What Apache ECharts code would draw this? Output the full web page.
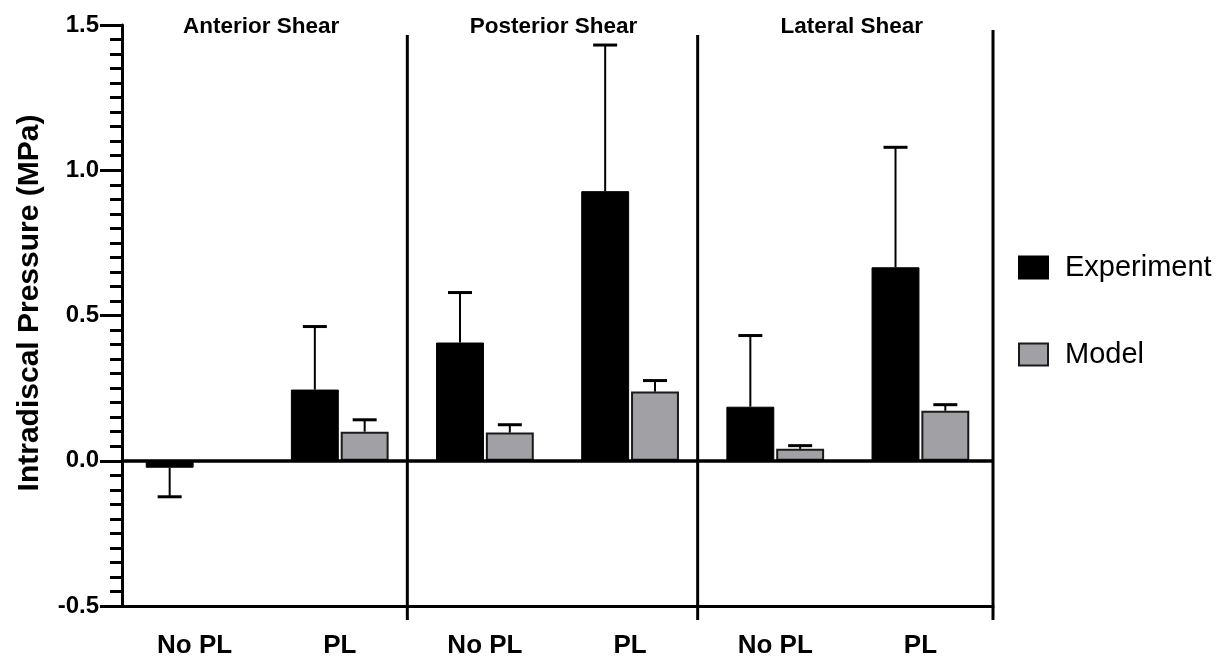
<!DOCTYPE html>
<html>
<head>
<meta charset="utf-8">
<script src="https://cdn.jsdelivr.net/npm/echarts@6/dist/echarts.min.js"></script>
<style>
html,body{margin:0;padding:0;background:#fff;}
#chart{width:1223px;height:660px;}
</style>
</head>
<body>
<div id="chart"></div>
<script>
// ---- data ----
const categories = ["No PL", "PL", "No PL", "PL", "No PL", "PL"];
const panelTitles = ["Anterior Shear", "Posterior Shear", "Lateral Shear"];
const panelBounds = [2, 4, 6];
const experimentMean = [-0.024, 0.245, 0.407, 0.928, 0.186, 0.666];
const experimentSD   = [0.100, 0.217, 0.172, 0.503, 0.245, 0.413];
const modelMean = [null, 0.100, 0.097, 0.238, 0.041, 0.172];
const modelSD   = [null, 0.041, 0.027, 0.038, 0.011, 0.021];
const yName = "Intradiscal Pressure (MPa)";

const FONT = "'Liberation Sans', Arial, Helvetica, sans-serif";
const BAR_W = 0.33, BAR_GAP = 0.04;

const chart = echarts.init(document.getElementById('chart'), null, {renderer: 'canvas'});

function errorSeries(name, means, sds, side) {
  const data = means.map((m, i) => m == null ? null : [i, m, sds[i]]).filter(d => d);
  return {
    type: 'custom', name: name, xAxisIndex: 0, yAxisIndex: 0, z: 5, silent: true,
    data: data,
    renderItem: function (params, api) {
      const i = api.value(0), m = api.value(1), s = api.value(2);
      const band = api.size([1, 0])[0];
      const w = band * BAR_W, g = w * BAR_GAP;
      const x = api.coord([i, m])[0] + side * (w + g) / 2;
      const y0 = api.coord([i, m])[1];
      const y1 = api.coord([i, m >= 0 ? m + s : m - s])[1];
      const cap = 24;
      return {
        type: 'group',
        children: [
          {type: 'line', shape: {x1: x, y1: y0, x2: x, y2: y1}, style: {stroke: '#000', lineWidth: 2}},
          {type: 'line', shape: {x1: x - cap / 2, y1: y1, x2: x + cap / 2, y2: y1}, style: {stroke: '#000', lineWidth: 3}}
        ]
      };
    }
  };
}

const option = {
  animation: false,
  backgroundColor: '#fff',
  grid: {left: 122, right: 230, top: 25, bottom: 54, containLabel: false},
  legend: {
    data: ['Experiment', 'Model'],
    orient: 'vertical', left: 1018, top: 253,
    itemWidth: 29, itemHeight: 22, itemGap: 58,
    icon: 'rect',
    padding: 0,
    textStyle: {fontFamily: FONT, fontSize: 29, color: '#000', padding: [0, 0, 0, 12]}
  },
  xAxis: [{
    type: 'category', data: categories,
    position: 'bottom',
    axisLine: {onZero: false, lineStyle: {color: '#000', width: 3}},
    axisTick: {alignWithLabel: true, length: 21, lineStyle: {color: '#000', width: 3.5}},
    axisLabel: {fontFamily: FONT, fontSize: 26, fontWeight: 'bold', color: '#000', margin: 27},
    splitLine: {show: false}
  }, {
    type: 'value', min: 0, max: 6, show: false
  }],
  yAxis: {
    type: 'value', min: -0.5, max: 1.5, interval: 0.5,
    axisLine: {show: true, lineStyle: {color: '#000', width: 3}},
    axisTick: {show: true, length: 22, lineStyle: {color: '#000', width: 3}},
    minorTick: {show: true, splitNumber: 10, length: 12, lineStyle: {color: '#000', width: 3}},
    axisLabel: {fontFamily: FONT, fontSize: 24, fontWeight: 'bold', color: '#000', margin: 23,
      formatter: v => v.toFixed(1)},
    splitLine: {show: false}
  },
  series: [
    {
      name: 'Experiment', type: 'bar', data: experimentMean,
      barWidth: (BAR_W * 100) + '%', barGap: (BAR_GAP * 100) + '%',
      itemStyle: {color: '#000', borderColor: '#000', borderWidth: 1},
      markLine: {
        silent: true, symbol: 'none', label: {show: false},
        lineStyle: {color: '#000', width: 3.5, type: 'solid'},
        data: [{yAxis: 0}]
      },
      z: 2
    },
    {
      name: 'Model', type: 'bar', data: modelMean,
      barWidth: (BAR_W * 100) + '%', barGap: (BAR_GAP * 100) + '%',
      itemStyle: {color: '#a1a1a5', borderColor: '#1a1a1a', borderWidth: 2},
      z: 2
    },
    errorSeries('Experiment SD', experimentMean, experimentSD, -1),
    errorSeries('Model SD', modelMean, modelSD, 1),
    {
      type: 'custom', name: 'panels', xAxisIndex: 1, yAxisIndex: 0, silent: true, z: 6,
      data: panelBounds.map(b => [b]),
      renderItem: function (params, api) {
        const v = api.value(0);
        const x = api.coord([v, 0])[0] + (v === 6 ? 0 : -5);
        const top = api.coord([v, 1.5])[1] + (v === 6 ? 5 : 10);
        const bot = api.coord([v, -0.5])[1] + 14;
        return {type: 'line', shape: {x1: x, y1: top, x2: x, y2: bot}, style: {stroke: '#000', lineWidth: 3}};
      }
    }
  ],
  graphic: [
    {type: 'text', x: 30, y: 303, rotation: Math.PI / 2,
      style: {text: yName, align: 'center', verticalAlign: 'middle', fontFamily: FONT, fontSize: 30, fontWeight: 'bold', fill: '#000'}}
  ]
};
chart.setOption(option);

// panel titles centred above each panel, positioned through the hidden value axis
const titleCenters = [1, 3, 5];
const yTop = chart.convertToPixel({yAxisIndex: 0}, 1.5);
chart.setOption({
  graphic: option.graphic.concat(panelTitles.map((t, k) => ({
    type: 'text',
    x: chart.convertToPixel({xAxisIndex: 1}, titleCenters[k]) - (k === 0 ? 6 : 0) + (k === 2 ? 4 : 0) - (k === 1 ? 4 : 0),
    y: yTop + 2,
    style: {text: t, align: 'center', verticalAlign: 'middle', fontFamily: FONT, fontSize: 22.5, fontWeight: 'bold', fill: '#000'}
  })))
});
</script>
</body>
</html>
